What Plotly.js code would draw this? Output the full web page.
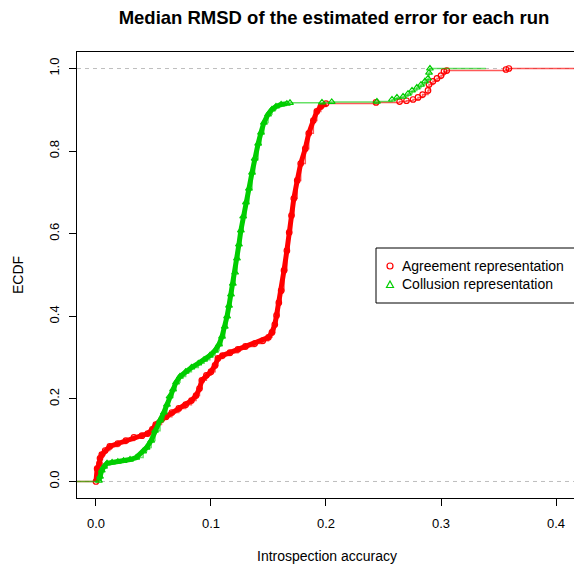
<!DOCTYPE html>
<html>
<head>
<meta charset="utf-8">
<script src="https://cdn.plot.ly/plotly-3.0.1.min.js"></script>
<style>html,body{margin:0;padding:0;background:#fff;}#chart{width:574px;height:566px;}</style>
</head>
<body>
<div id="chart"></div>
<script>
// ---- data (ECDF knots) ----
const agreeX = [0, 0.001, 0.003, 0.0035, 0.005, 0.008, 0.012, 0.019, 0.026, 0.033, 0.040, 0.045, 0.049, 0.052, 0.057, 0.061, 0.066, 0.072, 0.078, 0.083, 0.087, 0.090, 0.092, 0.096, 0.100, 0.1035, 0.106, 0.110, 0.1165, 0.1235, 0.130, 0.138, 0.145, 0.150, 0.153, 0.1555, 0.157, 0.159, 0.161, 0.1635, 0.166, 0.168, 0.170, 0.172, 0.175, 0.178, 0.182, 0.185, 0.189, 0.192, 0.1955, 0.200, 0.2435, 0.264, 0.270, 0.2757, 0.280, 0.284, 0.2887, 0.2896, 0.293, 0.2965, 0.300, 0.3026, 0.305, 0.3565, 0.359];
const agreeY = [0, 0.031, 0.044, 0.056, 0.065, 0.075, 0.085, 0.092, 0.099, 0.107, 0.111, 0.116, 0.126, 0.138, 0.150, 0.157, 0.167, 0.177, 0.186, 0.196, 0.208, 0.225, 0.245, 0.257, 0.266, 0.281, 0.298, 0.305, 0.312, 0.320, 0.327, 0.334, 0.341, 0.349, 0.361, 0.380, 0.402, 0.433, 0.462, 0.511, 0.559, 0.603, 0.644, 0.685, 0.729, 0.770, 0.806, 0.843, 0.874, 0.896, 0.908, 0.915, 0.918, 0.920, 0.922, 0.925, 0.930, 0.937, 0.947, 0.961, 0.969, 0.976, 0.983, 0.993, 0.995, 0.9976, 1.0];

const collusionX = [0.0026, 0.0035, 0.005, 0.007, 0.0096, 0.014, 0.019, 0.024, 0.0296, 0.035, 0.041, 0.044, 0.048, 0.0513, 0.0557, 0.059, 0.0617, 0.064, 0.067, 0.0696, 0.073, 0.078, 0.083, 0.089, 0.094, 0.099, 0.1035, 0.107, 0.1096, 0.112, 0.114, 0.1157, 0.1174, 0.119, 0.121, 0.1226, 0.1243, 0.126, 0.128, 0.1304, 0.133, 0.1357, 0.138, 0.141, 0.1435, 0.146, 0.1496, 0.153, 0.1565, 0.161, 0.166, 0.1687, 0.1965, 0.205, 0.2443, 0.2574, 0.2617, 0.267, 0.2713, 0.2748, 0.279, 0.2826, 0.286, 0.2887, 0.2896, 0.2904];
const collusionY = [0.002, 0.012, 0.027, 0.036, 0.044, 0.046, 0.048, 0.050, 0.053, 0.058, 0.073, 0.082, 0.099, 0.123, 0.148, 0.167, 0.186, 0.206, 0.223, 0.240, 0.254, 0.266, 0.276, 0.286, 0.295, 0.305, 0.317, 0.332, 0.351, 0.375, 0.400, 0.426, 0.453, 0.479, 0.506, 0.540, 0.574, 0.608, 0.642, 0.676, 0.709, 0.748, 0.782, 0.818, 0.845, 0.869, 0.889, 0.901, 0.908, 0.913, 0.915, 0.917, 0.918, 0.919, 0.920, 0.925, 0.930, 0.932, 0.939, 0.947, 0.954, 0.961, 0.969, 0.976, 0.990, 1.0];

const seriesNames = ['Agreement representation', 'Collusion representation'];
const xTicks = [0, 0.1, 0.2, 0.3, 0.4];
const yTicks = [0, 0.2, 0.4, 0.6, 0.8, 1.0];
const refLines = [0, 1];

// ---- styling / extents ----
const RED = '#FF0000', GREEN = '#00CD00';
const xRange = [-0.0165, 0.41565];
const yRange = [-0.04, 1.04];
const agreeDenseMax = 0.2, collusionDenseMax = 0.166;
const agreeLineEnd = 0.6, collusionLineEnd = 0.339;
const FONT = 'Liberation Sans, Arial, Helvetica, sans-serif';

function denseSubset(xs, ys, maxX) {
  const ox = [], oy = [];
  xs.forEach((v, i) => { if (v <= maxX) { ox.push(v); oy.push(ys[i]); } });
  return [ox, oy];
}
function stepTrace(xs, ys, endX, color) {
  return {
    x: [xRange[0]].concat(xs, [endX]),
    y: [0].concat(ys, [1]),
    mode: 'lines', line: {shape: 'hv', width: 1.5, color: color},
    hoverinfo: 'skip', showlegend: false, cliponaxis: true
  };
}
const [adx, ady] = denseSubset(agreeX, agreeY, agreeDenseMax);
const [cdx, cdy] = denseSubset(collusionX, collusionY, collusionDenseMax);

const traces = [
  stepTrace(agreeX, agreeY, agreeLineEnd, 'rgba(255,0,0,0.65)'),
  {x: adx, y: ady, mode: 'lines', line: {width: 5, color: RED}, showlegend: false, hoverinfo: 'skip'},
  {x: agreeX, y: agreeY, mode: 'markers', name: seriesNames[0],
   marker: {symbol: 'circle-open', size: 5.5, color: RED, line: {width: 1.2, color: RED}}, showlegend: false},
  stepTrace(collusionX, collusionY, collusionLineEnd, 'rgba(0,205,0,0.6)'),
  {x: cdx, y: cdy, mode: 'lines', line: {width: 5, color: GREEN}, showlegend: false, hoverinfo: 'skip'},
  {x: collusionX, y: collusionY, mode: 'markers', name: seriesNames[1],
   marker: {symbol: 'triangle-up-open', size: 6, color: GREEN, line: {width: 1.2, color: GREEN}}, showlegend: false}
];

// pixel -> paper helpers for decorations (plot area: x 77..574, y 52..498)
const PL = 77, PW = 497, PT = 52, PH = 446;
const px = v => (v - PL) / PW;
const py = v => (PT + PH - v) / PH;

const shapes = refLines.map(v => ({
  type: 'line', xref: 'paper', yref: 'y', x0: 0, x1: 1, y0: v, y1: v,
  line: {color: '#BEBEBE', width: 1, dash: '4px,4px'}, layer: 'below'
}));
// legend box
shapes.push({type: 'rect', xref: 'paper', yref: 'paper', x0: px(376), x1: px(640), y0: py(303), y1: py(248),
  line: {color: '#000', width: 1}, fillcolor: '#fff', layer: 'above'});
shapes.push({type: 'circle', xref: 'paper', yref: 'paper', x0: px(387), x1: px(393), y0: py(269), y1: py(263),
  line: {color: RED, width: 1.2}, layer: 'above'});
shapes.push({type: 'path', xref: 'paper', yref: 'paper',
  path: `M ${px(386.5)} ${py(287.5)} L ${px(393.5)} ${py(287.5)} L ${px(390)} ${py(281)} Z`,
  line: {color: GREEN, width: 1.2}, layer: 'above'});

const annotations = [
  {text: seriesNames[0], xref: 'paper', yref: 'paper', x: px(400), y: py(266), xanchor: 'left', yanchor: 'middle',
   showarrow: false, font: {family: FONT, size: 14, color: '#000'}},
  {text: seriesNames[1], xref: 'paper', yref: 'paper', x: px(400), y: py(284), xanchor: 'left', yanchor: 'middle',
   showarrow: false, font: {family: FONT, size: 14, color: '#000'}},
  {text: 'Introspection accuracy', xref: 'paper', yref: 'paper', x: px(327), y: py(556), xanchor: 'center', yanchor: 'middle',
   showarrow: false, font: {family: FONT, size: 14, color: '#000'}},
  {text: 'ECDF', xref: 'paper', yref: 'paper', x: px(18), y: py(275), xanchor: 'center', yanchor: 'middle', textangle: -90,
   showarrow: false, font: {family: FONT, size: 14, color: '#000'}}
];

const layout = {
  width: 574, height: 566,
  margin: {l: PL, r: 0, t: PT, b: 566 - PT - PH, pad: 0},
  paper_bgcolor: '#fff', plot_bgcolor: '#fff',
  font: {family: FONT, size: 12, color: '#000'},
  title: {text: '<b>Median RMSD of the estimated error for each run</b>', xref: 'container', yref: 'container',
          x: 334 / 574, y: 1 - 18 / 566, xanchor: 'center', yanchor: 'middle',
          font: {family: FONT, size: 18.5, color: '#000'}},
  xaxis: {range: xRange, tickvals: xTicks, tickformat: '.1f', ticks: 'outside', ticklen: 7, tickwidth: 1, tickcolor: '#000',
          showline: true, mirror: true, linecolor: '#000', linewidth: 1, showgrid: false, zeroline: false,
          ticklabelstandoff: 6, tickfont: {family: FONT, size: 13, color: '#000'}},
  yaxis: {range: yRange, tickvals: yTicks, tickformat: '.1f', ticks: 'outside', ticklen: 7, tickwidth: 1, tickcolor: '#000',
          showline: true, mirror: false, linecolor: '#000', linewidth: 1, showgrid: false, zeroline: false,
          tickangle: -90, ticklabelstandoff: 5, tickfont: {family: FONT, size: 13, color: '#000'}},
  showlegend: false,
  shapes: shapes,
  annotations: annotations
};

Plotly.newPlot('chart', traces, layout, {displayModeBar: false, staticPlot: true});
</script>
</body>
</html>
